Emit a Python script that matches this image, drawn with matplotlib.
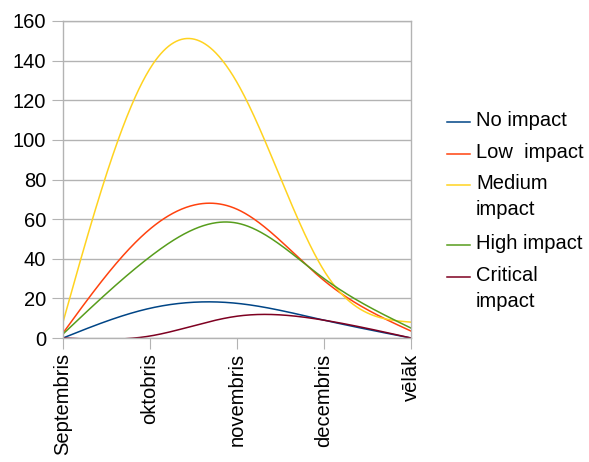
import numpy as np
import matplotlib
matplotlib.use("Agg")
import matplotlib.pyplot as plt
from matplotlib.lines import Line2D

plt.rcParams['font.family'] = ['Liberation Sans', 'DejaVu Sans']

months = ["Septembris", "oktobris", "novembris", "decembris", "vēlāk"]
labels = ["No impact", "Low  impact", "Medium\nimpact", "High impact", "Critical\nimpact"]
colors = ["#004586", "#ff420e", "#ffd320", "#579d1c", "#7e0021"]

no_impact = [0, 15, 17.5, 9, 0]
low_impact = [2.5, 55, 65, 29, 3.5]
medium_impact = [8, 136, 129, 34, 8]
high_impact = [2, 41, 58, 30, 5]
critical_impact = [0, 1, 11, 9, 0]
series = [no_impact, low_impact, medium_impact, high_impact, critical_impact]


def natural_spline(x, y, xs):
    x = np.asarray(x, float)
    y = np.asarray(y, float)
    n = len(x)
    h = np.diff(x)
    A = np.zeros((n, n))
    b = np.zeros(n)
    A[0, 0] = 1
    A[-1, -1] = 1
    for i in range(1, n - 1):
        A[i, i - 1] = h[i - 1]
        A[i, i] = 2 * (h[i - 1] + h[i])
        A[i, i + 1] = h[i]
        b[i] = 6 * ((y[i + 1] - y[i]) / h[i] - (y[i] - y[i - 1]) / h[i - 1])
    M = np.linalg.solve(A, b)
    idx = np.clip(np.searchsorted(x, xs) - 1, 0, n - 2)
    x0, x1 = x[idx], x[idx + 1]
    hh = x1 - x0
    t0 = x1 - xs
    t1 = xs - x0
    return (M[idx] * t0**3 / (6 * hh) + M[idx + 1] * t1**3 / (6 * hh)
            + (y[idx] / hh - M[idx] * hh / 6) * t0
            + (y[idx + 1] / hh - M[idx + 1] * hh / 6) * t1)


fig = plt.figure(figsize=(5.89, 4.62), dpi=100)
ax = fig.add_axes([63 / 589, 1 - 338 / 462, (411 - 63) / 589, (338 - 21) / 462])

xpos = np.arange(len(months))
xs = np.linspace(0, len(months) - 1, 400)
for vals, c in zip(series, colors):
    ax.plot(xs, natural_spline(xpos, vals, xs), color=c, lw=1.1)

ax.set_xlim(0, len(months) - 1)
ax.set_ylim(0, 160)
ax.set_yticks(range(0, 161, 20))
ax.set_xticks(xpos)
ax.set_xticklabels(months, rotation=90, fontsize=14.5)
ax.tick_params(axis='y', labelsize=14.5, length=8, color="#b3b3b3", pad=4)
ax.tick_params(axis='x', length=8, color="#b3b3b3", pad=3)
ax.grid(axis='y', color="#b3b3b3", lw=1)
ax.set_axisbelow(True)
for s in ax.spines.values():
    s.set_color("#b3b3b3")
    s.set_linewidth(1)

# legend drawn by hand so the marker sits on the first line of wrapped labels
ys = [122, 154, 185, 245, 277]
for lab, c, y in zip(labels, colors, ys):
    fy = 1 - y / 462
    fig.add_artist(Line2D([447 / 589, 470 / 589], [fy, fy], color=c, lw=1.1))
    fig.text(476 / 589, 1 - (y - 11) / 462, lab, fontsize=14.5, va='top',
             ha='left', linespacing=1.45)

fig.savefig("out.png", dpi=100)
